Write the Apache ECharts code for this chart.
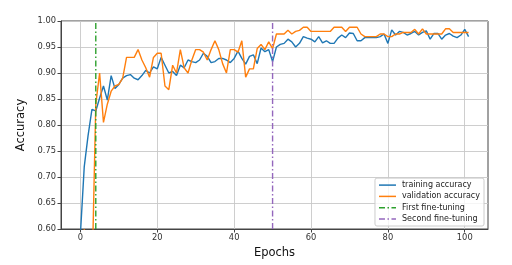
<!DOCTYPE html>
<html><head><meta charset="utf-8">
<script src="https://cdn.jsdelivr.net/npm/echarts@6/dist/echarts.min.js"></script>
<style>html,body{margin:0;padding:0;background:#fff}#c{width:512px;height:265px}</style>
</head><body><div id="c"></div>
<script>
const trainAcc = [0.59,0.72,0.78,0.83,0.827,0.852,0.875,0.848,0.895,0.870,
0.878,0.890,0.895,0.897,0.890,0.887,0.895,0.905,0.900,0.912,
0.908,0.930,0.915,0.900,0.903,0.895,0.915,0.910,0.925,0.922,
0.920,0.925,0.938,0.932,0.920,0.922,0.928,0.928,0.925,0.920,
0.928,0.942,0.928,0.917,0.932,0.935,0.918,0.948,0.941,0.945,
0.922,0.950,0.955,0.957,0.965,0.960,0.950,0.957,0.970,0.967,
0.965,0.960,0.970,0.958,0.962,0.957,0.957,0.967,0.973,0.968,
0.977,0.976,0.962,0.962,0.968,0.968,0.968,0.968,0.970,0.975,
0.957,0.983,0.973,0.980,0.978,0.973,0.976,0.980,0.973,0.978,
0.981,0.965,0.976,0.976,0.965,0.973,0.976,0.971,0.968,0.973,
0.984,0.970];
const valAcc = [0.50,0.60,0.50,0.50,0.84,0.90,0.805,0.84,0.865,0.875,
0.878,0.89,0.93,0.93,0.93,0.945,0.925,0.91,0.892,0.93,
0.938,0.938,0.875,0.868,0.915,0.90,0.945,0.91,0.90,0.925,
0.945,0.945,0.94,0.925,0.945,0.962,0.945,0.918,0.90,0.945,
0.945,0.94,0.962,0.892,0.908,0.908,0.947,0.955,0.945,0.96,
0.947,0.975,0.975,0.975,0.982,0.975,0.98,0.982,0.988,0.988,
0.98,0.98,0.98,0.98,0.98,0.98,0.988,0.988,0.988,0.98,
0.988,0.988,0.988,0.975,0.97,0.97,0.97,0.97,0.975,0.975,
0.97,0.97,0.975,0.975,0.978,0.978,0.978,0.984,0.975,0.985,
0.975,0.975,0.975,0.975,0.975,0.985,0.985,0.978,0.978,0.978,
0.978,0.978];
const firstFineTune = 4;
const secondFineTune = 50;
const xTicks = [0,20,40,60,80,100];
const yMin = 0.6, yMax = 1.0;
const seriesNames = ['training accuracy','validation accuracy','First fine-tuning','Second fine-tuning'];

const epochs = trainAcc.map((_, i) => i);
const dashDot = [6,2.5,1.5,2.5];
const solidIcon = 'path://M0,0h17v1.5h-17z';
const dashDotIcon = 'path://M0,0h6v1.5h-6z M8.5,0h1.5v1.5h-1.5z M12.5,0h4.5v1.5h-4.5z';
const chart = echarts.init(document.getElementById('c'), null, {renderer:'canvas'});
const font = 'DejaVu Sans';
chart.setOption({
  animation:false,
  textStyle:{fontFamily:font},
  grid:{left:61,right:24,top:21,bottom:36,show:true,borderColor:'#444',borderWidth:1,backgroundColor:'transparent'},
  legend:{
    orient:'vertical', right:28, bottom:39,
    data:[
      {name:seriesNames[0],icon:solidIcon},
      {name:seriesNames[1],icon:solidIcon},
      {name:seriesNames[2],icon:dashDotIcon},
      {name:seriesNames[3],icon:dashDotIcon}
    ],
    itemWidth:17, itemHeight:1.5, itemGap:3.3,
    padding:[3,4,3,4],
    borderColor:'#cccccc', borderWidth:1, borderRadius:2,
    backgroundColor:'rgba(255,255,255,0.8)',
    textStyle:{fontFamily:font,fontSize:8,color:'#222',padding:[0,0,0,1]}
  },
  xAxis:{
    type:'value', min:-5.05, max:106.05,
    name:'Epochs', nameLocation:'middle', nameGap:16,
    nameTextStyle:{fontFamily:font,fontSize:11.5,color:'#111'},
    axisLine:{show:true,onZero:false,lineStyle:{color:'#444',width:1}},
    axisTick:{show:true,length:3.5,lineStyle:{color:'#444'},customValues:xTicks},
    axisLabel:{fontFamily:font,fontSize:8.3,color:'#333',margin:5,customValues:xTicks},
    splitLine:{show:true,lineStyle:{color:'#c8c8c8',width:0.9}}
  },
  yAxis:{
    type:'value', min:yMin, max:yMax, interval:0.05,
    name:'Accuracy', nameLocation:'middle', nameGap:31, nameRotate:90,
    nameTextStyle:{fontFamily:font,fontSize:11.5,color:'#111'},
    axisLine:{show:true,onZero:false,lineStyle:{color:'#444',width:1}},
    axisTick:{show:true,length:3.5,lineStyle:{color:'#444'}},
    axisLabel:{fontFamily:font,fontSize:8.3,color:'#333',margin:5,formatter:v=>v.toFixed(2)},
    splitLine:{show:true,lineStyle:{color:'#c8c8c8',width:0.9}}
  },
  series:[
    {name:seriesNames[0],type:'line',data:epochs.map(i=>[i,trainAcc[i]]),showSymbol:false,symbol:'none',
     lineStyle:{color:'#1f77b4',width:1.4},itemStyle:{color:'#1f77b4'},clip:true,z:3},
    {name:seriesNames[1],type:'line',data:epochs.map(i=>[i,valAcc[i]]),showSymbol:false,symbol:'none',
     lineStyle:{color:'#ff7f0e',width:1.4},itemStyle:{color:'#ff7f0e'},clip:true,z:4},
    {name:seriesNames[2],type:'line',data:[[firstFineTune,yMin],[firstFineTune,yMax]],showSymbol:false,symbol:'none',
     lineStyle:{color:'#2ca02c',width:1.4,type:dashDot},itemStyle:{color:'#2ca02c'},z:5},
    {name:seriesNames[3],type:'line',data:[[secondFineTune,yMin],[secondFineTune,yMax]],showSymbol:false,symbol:'none',
     lineStyle:{color:'#9467bd',width:1.4,type:dashDot},itemStyle:{color:'#9467bd'},z:5}
  ]
});
</script></body></html>
